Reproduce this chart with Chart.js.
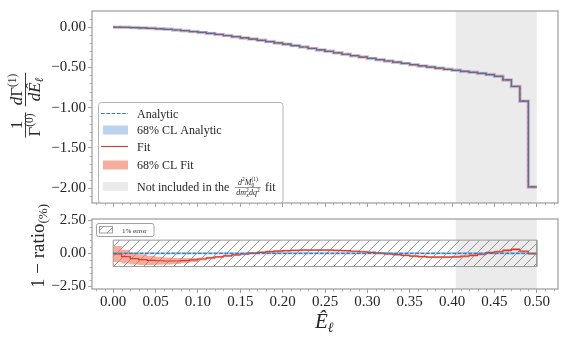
<!DOCTYPE html>
<html>
<head>
<meta charset="utf-8">
<script src="https://cdn.jsdelivr.net/npm/chart.js@4.4.0/dist/chart.umd.min.js"></script>
<style>
  html, body { margin: 0; padding: 0; background: #fff; }
  #wrap { position: relative; width: 563px; height: 338px; overflow: hidden; }
  canvas { position: absolute; left: 0; }
  #top { top: 0; }
  #bottom { top: 200px; }
</style>
</head>
<body>
<div id="wrap">
  <canvas id="top" width="563" height="214"></canvas>
  <canvas id="bottom" width="563" height="138"></canvas>
</div>
<script>
// bin edges of the lepton energy histogram
const binEdges = [
  0.00, 0.01, 0.02, 0.03, 0.04, 0.05, 0.06, 0.07, 0.08, 0.09,
  0.10, 0.11, 0.12, 0.13, 0.14, 0.15, 0.16, 0.17, 0.18, 0.19,
  0.20, 0.21, 0.22, 0.23, 0.24, 0.25, 0.26, 0.27, 0.28, 0.29,
  0.30, 0.31, 0.32, 0.33, 0.34, 0.35, 0.36, 0.37, 0.38, 0.39,
  0.40, 0.41, 0.42, 0.43, 0.44, 0.45, 0.46, 0.47, 0.48, 0.49, 0.50
];

// 1/Gamma0 dGamma1/dE per bin (analytic and fit coincide at this scale)
const analyticSpectrum = [
  -0.001, -0.003, -0.006, -0.010, -0.015, -0.021, -0.028, -0.036, -0.045, -0.055,
  -0.066, -0.078, -0.091, -0.105, -0.119, -0.134, -0.149, -0.164, -0.180, -0.196,
  -0.212, -0.230, -0.247, -0.265, -0.283, -0.301, -0.319, -0.337, -0.355, -0.372,
  -0.389, -0.405, -0.421, -0.436, -0.451, -0.467, -0.482, -0.496, -0.510, -0.524,
  -0.537, -0.550, -0.562, -0.575, -0.590, -0.612, -0.656, -0.737, -0.920, -1.985
];
const fitSpectrum = [
  -0.001, -0.003, -0.006, -0.010, -0.015, -0.021, -0.028, -0.036, -0.045, -0.055,
  -0.066, -0.078, -0.091, -0.105, -0.119, -0.134, -0.149, -0.164, -0.180, -0.196,
  -0.212, -0.230, -0.247, -0.265, -0.283, -0.301, -0.319, -0.337, -0.355, -0.372,
  -0.389, -0.405, -0.421, -0.436, -0.451, -0.467, -0.482, -0.496, -0.510, -0.524,
  -0.537, -0.550, -0.562, -0.575, -0.590, -0.612, -0.656, -0.737, -0.920, -1.985
];

// 1 - ratio in percent
const fitRatio = [
  -0.05, -0.25, -0.40, -0.48, -0.53, -0.56, -0.58, -0.58, -0.55, -0.50,
  -0.43, -0.35, -0.27, -0.19, -0.12, -0.05, 0.02, 0.08, 0.13, 0.17,
  0.20, 0.22, 0.24, 0.25, 0.25, 0.24, 0.22, 0.20, 0.16, 0.12,
  0.07, 0.02, -0.04, -0.10, -0.16, -0.21, -0.25, -0.28, -0.29, -0.29,
  -0.27, -0.22, -0.15, -0.07, 0.05, 0.12, 0.22, 0.30, 0.16, -0.03
];
const fitRatioErr = [
  0.60, 0.52, 0.45, 0.40, 0.35, 0.31, 0.27, 0.23, 0.19, 0.15,
  0.11, 0.09, 0.08, 0.08, 0.08, 0.08, 0.08, 0.08, 0.08, 0.08,
  0.08, 0.08, 0.08, 0.08, 0.08, 0.08, 0.08, 0.08, 0.08, 0.08,
  0.08, 0.08, 0.08, 0.08, 0.08, 0.08, 0.08, 0.08, 0.08, 0.08,
  0.09, 0.09, 0.10, 0.10, 0.10, 0.10, 0.10, 0.10, 0.10, 0.10
];
const analyticRatioX = [0.0, 0.5];
const analyticRatioY = [0.0, 0.0];

const excludedRange = [0.404, 0.5];
const errorBand = [-1, 1];

const xTickValues = [0, 0.05, 0.1, 0.15, 0.2, 0.25, 0.3, 0.35, 0.4, 0.45, 0.5];
const xTickLabels = ['0.00', '0.05', '0.10', '0.15', '0.20', '0.25', '0.30', '0.35', '0.40', '0.45', '0.50'];
const topYTickValues = [0, -0.5, -1, -1.5, -2];
const topYTickLabels = ['0.00', '\u22120.50', '\u22121.00', '\u22121.50', '\u22122.00'];
const botYTickValues = [2.5, 0, -2.5];
const botYTickLabels = ['2.50', '0.00', '\u22122.50'];

const SERIF = "'Liberation Serif', 'DejaVu Serif', serif";
const BLUE = '#2f7fc1';
const RED = '#d93a32';
const BLUE_BAND = 'rgba(120,170,220,0.5)';
const RED_BAND = 'rgba(240,120,90,0.6)';
const GREY_BAND = 'rgb(235,235,235)';
const SPINE = '#a3a3a3';
const TICK = '#8a8a8a';
const TEXT = '#262626';

Chart.defaults.font.family = SERIF;
Chart.defaults.color = TEXT;

// histogram outline: one point per left edge plus the closing right edge
function steps( values ) {
	const pts = values.map( ( v, i ) => ( { x: binEdges[ i ], y: v } ) );
	pts.push( { x: binEdges[ values.length ], y: values[ values.length - 1 ] } );
	return pts;
}

function minorList( from, to, step ) {
	const out = [];
	for ( let v = from; v <= to + 1e-9; v += step ) out.push( Math.round( v * 1000 ) / 1000 );
	return out;
}

// hatch pattern for the 1% error box
function hatch() {
	const c = document.createElement( 'canvas' );
	c.width = 10; c.height = 10;
	const g = c.getContext( '2d' );
	g.strokeStyle = '#7a7a7a';
	g.lineWidth = 0.8;
	g.beginPath();
	g.moveTo( -1, 11 ); g.lineTo( 11, -1 );
	g.moveTo( -1, 1 ); g.lineTo( 1, -1 );
	g.moveTo( 9, 11 ); g.lineTo( 11, 9 );
	g.stroke();
	return g.createPattern( c, 'repeat' );
}

// text runs: {t, size, it, dy, stay}
function runFont( r ) {
	return `${ r.it ? 'italic ' : '' }${ r.size }px ${ SERIF }`;
}
function runsWidth( ctx, runs ) {
	let w = 0, extra = 0;
	runs.forEach( ( r ) => {
		ctx.font = runFont( r );
		const rw = ctx.measureText( r.t ).width;
		if ( r.stay ) { extra = Math.max( extra, rw ); } else { w += Math.max( rw, extra ); extra = 0; }
	} );
	return w + extra;
}
function drawRuns( ctx, runs, x, y ) {
	let extra = 0;
	runs.forEach( ( r ) => {
		ctx.font = runFont( r );
		ctx.fillText( r.t, x, y + ( r.dy || 0 ) );
		const rw = ctx.measureText( r.t ).width;
		if ( r.stay ) { extra = Math.max( extra, rw ); } else { x += Math.max( rw, extra ); extra = 0; }
	} );
}
function fraction( ctx, num, den, cx, barY, numGap, denGap, lw ) {
	const wn = runsWidth( ctx, num ), wd = runsWidth( ctx, den );
	const w = Math.max( wn, wd ) + 2;
	drawRuns( ctx, num, cx - wn / 2, barY - numGap );
	drawRuns( ctx, den, cx - wd / 2, barY + denGap );
	ctx.save();
	ctx.strokeStyle = TEXT;
	ctx.lineWidth = lw;
	ctx.beginPath();
	ctx.moveTo( cx - w / 2, barY );
	ctx.lineTo( cx + w / 2, barY );
	ctx.stroke();
	ctx.restore();
}

function decor( xMinor, yMinor, extra ) {
	return {
		id: 'decor',
		afterDraw( chart ) {
			const ctx = chart.ctx;
			const a = chart.chartArea;
			const xs = chart.scales.x, ys = chart.scales.y;
			ctx.save();
			ctx.strokeStyle = TICK;
			ctx.lineWidth = 0.7;
			ctx.beginPath();
			xMinor.forEach( ( v ) => {
				const px = Math.round( xs.getPixelForValue( v ) ) + 0.5;
				ctx.moveTo( px, a.bottom ); ctx.lineTo( px, a.bottom + 2.2 );
			} );
			yMinor.forEach( ( v ) => {
				const py = Math.round( ys.getPixelForValue( v ) ) + 0.5;
				ctx.moveTo( a.left, py ); ctx.lineTo( a.left - 2.2, py );
			} );
			ctx.stroke();
			ctx.strokeStyle = SPINE;
			ctx.lineWidth = 1.3;
			ctx.strokeRect( a.left, a.top, a.right - a.left, a.bottom - a.top );
			ctx.fillStyle = TEXT;
			ctx.textBaseline = 'alphabetic';
			ctx.textAlign = 'left';
			extra( ctx, chart );
			ctx.restore();
		},
	};
}

function xAxis( showLabels, height, pad ) {
	return {
		type: 'linear',
		min: -0.025,
		max: 0.525,
		afterBuildTicks: ( s ) => { s.ticks = xTickValues.map( ( v ) => ( { value: v } ) ); },
		afterFit: ( s ) => { s.height = height; },
		grid: { drawOnChartArea: false, tickLength: 4, tickColor: TICK, tickWidth: 0.8 },
		border: { display: false },
		ticks: {
			display: showLabels,
			padding: pad,
			maxRotation: 0,
			autoSkip: false,
			font: { size: 15 },
			color: TEXT,
			callback: ( v, i ) => xTickLabels[ i ],
		},
	};
}

function yAxis( min, max, values, labels ) {
	return {
		min: min,
		max: max,
		afterBuildTicks: ( s ) => { s.ticks = values.map( ( v ) => ( { value: v } ) ); },
		afterFit: ( s ) => { s.width = 92; },
		grid: { drawOnChartArea: false, tickLength: 4, tickColor: TICK, tickWidth: 0.8 },
		border: { display: false },
		ticks: {
			padding: 2,
			autoSkip: false,
			font: { size: 15 },
			color: TEXT,
			callback: ( v, i ) => labels[ i ],
		},
	};
}

const lineBase = { pointRadius: 0, tension: 0, fill: false };

// top panel
function topExtra( ctx ) {
	// y label
	ctx.save();
	ctx.translate( 25.5, 106.5 );
	ctx.rotate( -Math.PI / 2 );
	fraction( ctx,
		[ { t: '1', size: 17 } ],
		[ { t: '\u0393', size: 17 }, { t: '(0)', size: 11.5, dy: -6.5 } ],
		-18.5, 0, 3.5, 14, 0.9 );
	fraction( ctx,
		[ { t: 'd', size: 17, it: true }, { t: '\u0393', size: 17 }, { t: '(1)', size: 11.5, dy: -6.5 } ],
		[ { t: 'd', size: 17, it: true }, { t: '\u00ca', size: 17, it: true }, { t: '\u2113', size: 11.5, it: true, dy: 3 } ],
		17, 0, 3.5, 14, 0.9 );
	ctx.restore();

	// legend
	ctx.save();
	ctx.beginPath();
	ctx.roundRect( 98.5, 102.5, 184.5, 100.5, 3 );
	ctx.fillStyle = 'rgba(255,255,255,0.85)';
	ctx.fill();
	ctx.strokeStyle = '#b3b3b3';
	ctx.lineWidth = 1;
	ctx.stroke();

	ctx.lineWidth = 1.1;
	ctx.strokeStyle = BLUE;
	ctx.setLineDash( [ 3.7, 1.6 ] );
	ctx.beginPath(); ctx.moveTo( 101, 113.5 ); ctx.lineTo( 128, 113.5 ); ctx.stroke();
	ctx.setLineDash( [] );
	ctx.strokeStyle = RED;
	ctx.beginPath(); ctx.moveTo( 101, 146.5 ); ctx.lineTo( 128, 146.5 ); ctx.stroke();
	ctx.fillStyle = BLUE_BAND; ctx.fillRect( 103, 125.5, 25, 9 );
	ctx.fillStyle = RED_BAND; ctx.fillRect( 103, 160.5, 25, 9 );
	ctx.fillStyle = GREY_BAND; ctx.fillRect( 103, 182, 25, 9 );

	ctx.fillStyle = TEXT;
	ctx.font = `12px ${ SERIF }`;
	ctx.fillText( 'Analytic', 137, 117.5 );
	ctx.fillText( '68% CL Analytic', 137, 134 );
	ctx.fillText( 'Fit', 137, 150.5 );
	ctx.fillText( '68% CL Fit', 137, 169 );
	ctx.fillText( 'Not included in the', 137, 190.5 );
	fraction( ctx,
		[ { t: 'd', size: 8, it: true }, { t: '2', size: 5.5, dy: -3.5 }, { t: 'M', size: 8, it: true },
			{ t: '(1)', size: 5.5, dy: -3.5, stay: true }, { t: '0', size: 5.5, dy: 2 } ],
		[ { t: 'dm', size: 8, it: true }, { t: '2', size: 5.5, dy: -3, stay: true }, { t: 'X', size: 5, it: true, dy: 2 },
			{ t: 'dq', size: 8, it: true }, { t: '2', size: 5.5, dy: -3 } ],
		248, 187.5, 3, 7, 0.5 );
	ctx.font = `12px ${ SERIF }`;
	ctx.fillText( 'fit', 265, 190.5 );
	ctx.restore();
}

new Chart( document.getElementById( 'top' ), {
	type: 'line',
	data: {
		datasets: [
			{ ...lineBase, label: 'Analytic', data: steps( analyticSpectrum ), stepped: 'before',
				borderColor: BLUE, borderWidth: 1.1, borderDash: [ 3.7, 1.6 ] },
			{ ...lineBase, label: 'Fit', data: steps( fitSpectrum ), stepped: 'before',
				borderColor: RED, borderWidth: 1.2 },
			{ ...lineBase, label: '68% CL Analytic', data: steps( analyticSpectrum ), stepped: 'before',
				borderColor: BLUE_BAND, borderWidth: 3 },
			{ ...lineBase, label: '68% CL Fit', data: steps( fitSpectrum ), stepped: 'before',
				borderColor: 'rgba(240,120,90,0.3)', borderWidth: 3.5 },
			{ ...lineBase, label: 'Not included',
				data: [ { x: excludedRange[ 0 ], y: 0.2 }, { x: excludedRange[ 1 ], y: 0.2 } ],
				fill: 'start', backgroundColor: GREY_BAND, borderWidth: 0 },
		],
	},
	options: {
		responsive: false,
		animation: false,
		devicePixelRatio: 1,
		layout: { padding: { left: 0, right: 5, top: 3, bottom: 0 } },
		plugins: { legend: { display: false }, tooltip: { enabled: false } },
		scales: {
			x: xAxis( false, 5, 0 ),
			y: yAxis( -2.185, 0.2, topYTickValues, topYTickLabels ),
		},
	},
	plugins: [ decor(
		minorList( -0.02, 0.52, 0.01 ).filter( ( v ) => Math.round( v * 1000 ) % 50 !== 0 ),
		minorList( -2.1, 0.1, 0.1 ).filter( ( v ) => Math.round( v * 1000 ) % 500 !== 0 ),
		topExtra ) ],
} );

// bottom panel (canvas starts at y = 200)
function bottomExtra( ctx ) {
	// x label
	drawRuns( ctx, [ { t: '\u00ca', size: 21, it: true }, { t: '\u2113', size: 14, it: true, dy: 4 } ], 315, 128 );
	// y label
	ctx.save();
	ctx.translate( 44, 88 );
	ctx.rotate( -Math.PI / 2 );
	drawRuns( ctx, [ { t: '1 \u2212 ratio', size: 19 }, { t: '(%)', size: 13, dy: 3 } ], 0, 0 );
	ctx.restore();
	// legend
	ctx.beginPath();
	ctx.roundRect( 96.5, 23.5, 57.5, 13, 2 );
	ctx.fillStyle = 'rgba(255,255,255,0.85)';
	ctx.fill();
	ctx.strokeStyle = '#a0a0a0';
	ctx.lineWidth = 1;
	ctx.stroke();
	ctx.fillStyle = hatch();
	ctx.fillRect( 99.5, 26.5, 13, 6.5 );
	ctx.strokeStyle = '#8a8a8a';
	ctx.lineWidth = 0.8;
	ctx.strokeRect( 99.5, 26.5, 13, 6.5 );
	ctx.fillStyle = TEXT;
	ctx.font = `7px ${ SERIF }`;
	ctx.fillText( '1% error', 122, 32.5 );
}

const pattern = hatch();

new Chart( document.getElementById( 'bottom' ), {
	type: 'line',
	data: {
		datasets: [
			{ ...lineBase, label: 'Analytic',
				data: analyticRatioX.map( ( x, i ) => ( { x: x, y: analyticRatioY[ i ] } ) ),
				borderColor: BLUE, borderWidth: 1.1, borderDash: [ 3.7, 1.6 ] },
			{ ...lineBase, label: 'Fit', data: steps( fitRatio ), stepped: 'before',
				borderColor: RED, borderWidth: 1.2 },
			{ ...lineBase, label: '68% CL Fit', stepped: 'before',
				data: steps( fitRatio.map( ( v, i ) => v + fitRatioErr[ i ] ) ),
				fill: '+1', backgroundColor: RED_BAND, borderWidth: 0 },
			{ ...lineBase, label: 'fit low', stepped: 'before',
				data: steps( fitRatio.map( ( v, i ) => v - fitRatioErr[ i ] ) ), borderWidth: 0 },
			{ ...lineBase, label: '68% CL Analytic',
				data: analyticRatioX.map( ( x, i ) => ( { x: x, y: analyticRatioY[ i ] } ) ),
				borderColor: BLUE_BAND, borderWidth: 2.5 },
			{ ...lineBase, label: '1% error frame',
				data: [ { x: 0, y: errorBand[ 0 ] }, { x: 0, y: errorBand[ 1 ] }, { x: 0.5, y: errorBand[ 1 ] },
					{ x: 0.5, y: errorBand[ 0 ] }, { x: 0, y: errorBand[ 0 ] } ],
				borderColor: '#9a9a9a', borderWidth: 1 },
			{ ...lineBase, label: '1% error',
				data: [ { x: 0, y: errorBand[ 1 ] }, { x: 0.5, y: errorBand[ 1 ] } ],
				fill: { value: errorBand[ 0 ] }, backgroundColor: pattern, borderWidth: 0 },
			{ ...lineBase, label: 'Not included',
				data: [ { x: excludedRange[ 0 ], y: 2.6 }, { x: excludedRange[ 1 ], y: 2.6 } ],
				fill: 'start', backgroundColor: GREY_BAND, borderWidth: 0 },
		],
	},
	options: {
		responsive: false,
		animation: false,
		devicePixelRatio: 1,
		layout: { padding: { left: 0, right: 5, top: 19, bottom: 0 } },
		plugins: { legend: { display: false }, tooltip: { enabled: false } },
		scales: {
			x: xAxis( true, 49, 0 ),
			y: yAxis( -2.7, 2.6, botYTickValues, botYTickLabels ),
		},
	},
	plugins: [ decor(
		minorList( -0.02, 0.52, 0.01 ).filter( ( v ) => Math.round( v * 1000 ) % 50 !== 0 ),
		[ -2.0, -1.5, -1.0, -0.5, 0.5, 1.0, 1.5, 2.0 ],
		bottomExtra ) ],
} );
</script>
</body>
</html>
